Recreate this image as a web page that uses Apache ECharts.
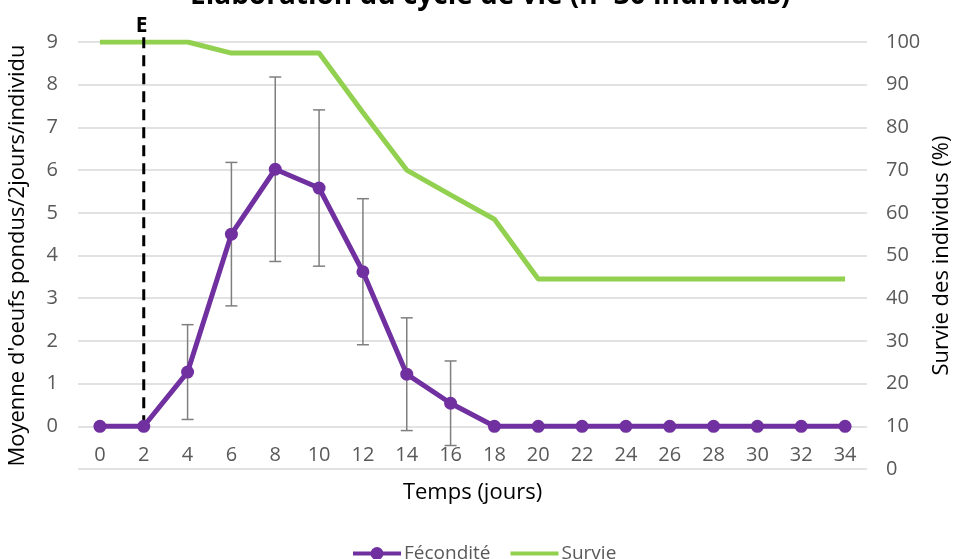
<!DOCTYPE html>
<html>
<head>
<meta charset="utf-8">
<script src="https://cdn.jsdelivr.net/npm/echarts@6/dist/echarts.min.js"></script>
<style>html,body{margin:0;padding:0;background:#fff}#c{width:955px;height:559px}</style>
</head>
<body>
<div id="c"></div>
<script>
const jours = ['0','2','4','6','8','10','12','14','16','18','20','22','24','26','28','30','32','34'];
const fecondite = [0,0,1.27,4.5,6.02,5.58,3.62,1.22,0.54,0,0,0,0,0,0,0,0,0];
const erreur = [0,0,1.11,1.68,2.16,1.83,1.71,1.32,0.99,0,0,0,0,0,0,0,0,0];
const survie = [100,100,100,97.4,97.4,97.4,83.5,70,64.2,58.5,44.5,44.5,44.5,44.5,44.5,44.5,44.5,44.5];
const leftTicks = {min:-1, max:9, interval:1};
const rightTicks = {min:0, max:100, interval:10};
const marqueurE = {jour:'2', bas:0, haut:9.2, texte:'E'};

const errData = [];
fecondite.forEach((v,i)=>{ if (erreur[i] > 0) errData.push([i, v, erreur[i]]); });

const FONT = 'Open Sans';
const chart = echarts.init(document.getElementById('c'));
chart.setOption({
  animation:false,
  textStyle:{fontFamily:FONT},
  title:{
    text:'Élaboration du cycle de vie (n=30 individus)',
    left:185, top:-23,
    textStyle:{fontFamily:FONT, fontSize:28, fontWeight:'bold', color:'#000'}
  },
  legend:{
    top:539, left:348, itemWidth:48, itemHeight:13, itemGap:20,
    textStyle:{fontFamily:FONT, fontSize:19, color:'#595959', padding:[0,0,0,-2]},
    data:[
      {name:'Fécondité', icon:'path://M0,4.5H48V8.5H0Z M24,0A6.5,6.5 0 1 1 24,13A6.5,6.5 0 1 1 24,0Z'},
      {name:'Survie', icon:'path://M0,4.5H48V8.5H0Z M0,0H0.01V13H0Z'}
    ]
  },
  grid:{left:78, right:88, top:42, bottom:90, outerBoundsMode:'none', containLabel:false},
  xAxis:{
    type:'category', data:jours, boundaryGap:true,
    axisLine:{show:false}, axisTick:{show:false},
    axisLabel:{margin:-24, fontSize:20, color:'#595959', fontFamily:FONT},
    name:'Temps (jours)', nameLocation:'middle', nameGap:13,
    nameTextStyle:{fontFamily:FONT, fontSize:22, color:'#000'}
  },
  yAxis:[{
    type:'value', min:leftTicks.min, max:leftTicks.max, interval:leftTicks.interval,
    axisLine:{show:false}, axisTick:{show:false},
    axisLabel:{margin:20, fontSize:20, color:'#595959', fontFamily:FONT,
      formatter:v=> v < 0 ? '' : String(v)},
    splitLine:{lineStyle:{color:'#d9d9d9', width:1.5}},
    name:"Moyenne d'oeufs pondus/2jours/individu", nameLocation:'middle', nameGap:49, nameRotate:90,
    nameTextStyle:{fontFamily:FONT, fontSize:22, color:'#000'}
  },{
    type:'value', min:rightTicks.min, max:rightTicks.max, interval:rightTicks.interval,
    position:'right',
    axisLine:{show:false}, axisTick:{show:false},
    axisLabel:{margin:19, fontSize:20, color:'#595959', fontFamily:FONT},
    splitLine:{show:false},
    name:'Survie des individus (%)', nameLocation:'middle', nameGap:64, nameRotate:90,
    nameTextStyle:{fontFamily:FONT, fontSize:22, color:'#000'}
  }],
  series:[
    {
      name:'Survie', type:'line', yAxisIndex:1, data:survie,
      symbol:'none', lineStyle:{color:'#92d050', width:5}, itemStyle:{color:'#92d050'}, z:2
    },
    {
      name:'marqueur', type:'custom', yAxisIndex:0, z:3, silent:true,
      data:[[jours.indexOf(marqueurE.jour), marqueurE.bas, marqueurE.haut]],
      renderItem:(params, api)=>{
        const b = api.coord([api.value(0), api.value(1)]);
        const t = api.coord([api.value(0), api.value(2)]);
        return {type:'group', children:[
          {type:'line', shape:{x1:b[0], y1:b[1], x2:t[0], y2:t[1]},
           style:{stroke:'#000', lineWidth:3, lineDash:[11,7]}},
          {type:'text', x:t[0]-2, y:t[1]+3,
           style:{text:marqueurE.texte, fill:'#000', font:'bold 21px "Open Sans"', align:'center', verticalAlign:'bottom'}}
        ]};
      }
    },
    {
      name:'erreurs', type:'custom', yAxisIndex:0, data:errData, z:3, silent:true,
      renderItem:(params, api)=>{
        const x = api.value(0), y = api.value(1), e = api.value(2);
        const t = api.coord([x, y+e]), b = api.coord([x, y-e]);
        const w = 6;
        const st = {stroke:'#7f7f7f', lineWidth:1.5};
        return {type:'group', children:[
          {type:'line', shape:{x1:t[0], y1:t[1], x2:b[0], y2:b[1]}, style:st},
          {type:'line', shape:{x1:t[0]-w, y1:t[1], x2:t[0]+w, y2:t[1]}, style:st},
          {type:'line', shape:{x1:b[0]-w, y1:b[1], x2:b[0]+w, y2:b[1]}, style:st}
        ]};
      }
    },
    {
      name:'Fécondité', type:'line', yAxisIndex:0, data:fecondite,
      symbol:'circle', symbolSize:13,
      lineStyle:{color:'#7030a0', width:5}, itemStyle:{color:'#7030a0'}, z:4
    }
  ]
});
</script>
</body>
</html>
